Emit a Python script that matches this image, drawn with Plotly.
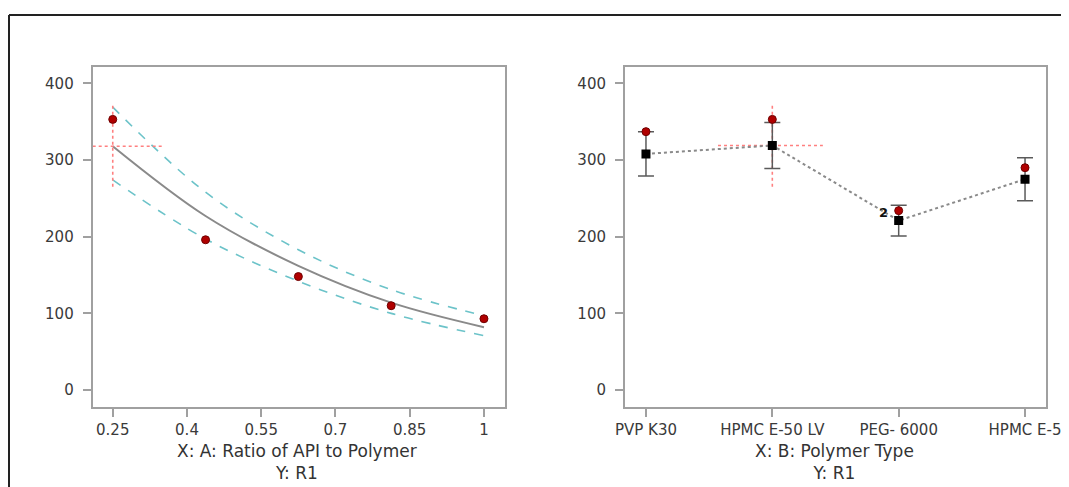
import plotly.graph_objects as go

# ---------------- data ----------------
# Left panel: A: Ratio of API to Polymer
ratio_x = [0.25, 0.4375, 0.625, 0.8125, 1.0]
ratio_actual = [353, 196, 148, 110, 93]
ratio_fit = [318, 227, 162, 114, 82]
ratio_upper = [369, 258, 183, 131, 97]
ratio_lower = [274, 197, 142, 100, 71]
ratio_ticks = [0.25, 0.4, 0.55, 0.7, 0.85, 1.0]
ratio_ticktext = ["0.25", "0.4", "0.55", "0.7", "0.85", "1"]

# Right panel: B: Polymer Type
polymers = ["PVP K30", "HPMC E-50 LV", "PEG- 6000", "HPMC E-5"]
poly_mean = [308, 319, 221, 275]
poly_err = [29, 30, 20, 28]
poly_actual = [337, 353, 234, 290]
poly_repl_label = ["", "", "2", ""]

# current prediction (crosshair)
pred_x_ratio = 0.25
pred_poly_idx = 1
pred_value = 318
pred_ci = [265, 374]

y_ticks = [0, 100, 200, 300, 400]

FONT = "DejaVu Sans"
TICK_C = "#3a3a3a"
BOX_C = "#a0a0a0"
W, H = 1069, 487
OFF = 8  # page body margin offset

def px_x(p):
    return (p - OFF) / W

def px_y(p):
    return 1 - (p - OFF) / H

fig = go.Figure()

# ---- left panel ----
fig.add_trace(go.Scatter(x=ratio_x, y=ratio_upper, mode="lines", line=dict(color="#6cc3c9", width=1.6, dash="dash", shape="spline"),
                         xaxis="x", yaxis="y", showlegend=False, hoverinfo="skip"))
fig.add_trace(go.Scatter(x=ratio_x, y=ratio_lower, mode="lines", line=dict(color="#6cc3c9", width=1.6, dash="dash", shape="spline"),
                         xaxis="x", yaxis="y", showlegend=False, hoverinfo="skip"))
fig.add_trace(go.Scatter(x=ratio_x, y=ratio_fit, mode="lines", line=dict(color="#8a8a8a", width=2, shape="spline"),
                         xaxis="x", yaxis="y", showlegend=False))
# crosshair left
fig.add_trace(go.Scatter(x=[pred_x_ratio, pred_x_ratio], y=pred_ci, mode="lines",
                         line=dict(color="#ff8080", width=1.6, dash="dot"), xaxis="x", yaxis="y", showlegend=False, hoverinfo="skip"))
fig.add_trace(go.Scatter(x=[0.2095, 0.349], y=[pred_value, pred_value], mode="lines",
                         line=dict(color="#ff8080", width=1.6, dash="dot"), xaxis="x", yaxis="y", showlegend=False, hoverinfo="skip"))
fig.add_trace(go.Scatter(x=ratio_x, y=ratio_actual, mode="markers",
                         marker=dict(color="#b00000", size=8, line=dict(color="#700000", width=1)),
                         xaxis="x", yaxis="y", showlegend=False))

# ---- right panel ----
idx = list(range(len(polymers)))
fig.add_trace(go.Scatter(x=[pred_poly_idx, pred_poly_idx], y=pred_ci, mode="lines",
                         line=dict(color="#ff8080", width=1.6, dash="dot"), xaxis="x2", yaxis="y2", showlegend=False, hoverinfo="skip"))
fig.add_trace(go.Scatter(x=[pred_poly_idx - 0.43, pred_poly_idx + 0.40], y=[pred_value + 1, pred_value + 1], mode="lines",
                         line=dict(color="#ff8080", width=1.6, dash="dot"), xaxis="x2", yaxis="y2", showlegend=False, hoverinfo="skip"))
fig.add_trace(go.Scatter(x=idx, y=poly_mean, mode="lines+markers",
                         line=dict(color="#8a8a8a", width=2, dash="dot"),
                         marker=dict(color="black", size=9, symbol="square"),
                         error_y=dict(type="data", array=poly_err, visible=True, color="#5a5a5a", thickness=1.5, width=8),
                         xaxis="x2", yaxis="y2", showlegend=False))
fig.add_trace(go.Scatter(x=idx, y=poly_actual, mode="markers",
                         marker=dict(color="#b00000", size=8, line=dict(color="#700000", width=1)),
                         xaxis="x2", yaxis="y2", showlegend=False))

annotations = []
for i, lab in enumerate(poly_repl_label):
    if lab:
        annotations.append(dict(x=idx[i], y=poly_actual[i], xref="x2", yref="y2", text="<b>" + lab + "</b>",
                                showarrow=False, xshift=-15, yshift=-2, font=dict(family=FONT, size=13, color="#111")))

# axis titles as annotations (two lines)
for cx, t1 in [(297, "X: A: Ratio of API to Polymer"), (834, "X: B: Polymer Type")]:
    annotations.append(dict(x=px_x(cx), y=px_y(439), xref="paper", yref="paper", text=t1 + "<br>Y: R1",
                            showarrow=False, xanchor="center", yanchor="top",
                            font=dict(family=FONT, size=17, color="#333")))

axis_common = dict(showline=True, mirror=True, linecolor=BOX_C, linewidth=2, showgrid=False, zeroline=False,
                   ticks="outside", ticklen=8, tickcolor=BOX_C, tickwidth=1.5, automargin=False,
                   tickfont=dict(family=FONT, size=15, color=TICK_C))

fig.update_layout(
    width=W, height=H,
    margin=dict(l=0, r=0, t=0, b=0, autoexpand=False),
    paper_bgcolor="white", plot_bgcolor="white",
    xaxis=dict(domain=[px_x(92.7), px_x(505)], range=[0.2095, 1.0425], tickvals=ratio_ticks, ticktext=ratio_ticktext,
               anchor="y", ticklabelstandoff=0, **axis_common),
    yaxis=dict(domain=[px_y(406.7), px_y(66.7)], range=[-21.7, 421.7], tickvals=y_ticks, anchor="x",
               ticklabelstandoff=6, **axis_common),
    xaxis2=dict(domain=[px_x(625), px_x(1046)], range=[-0.166, 3.166], tickvals=idx, ticktext=polymers,
                anchor="y2", ticklabelstandoff=0, **axis_common),
    yaxis2=dict(domain=[px_y(406.7), px_y(66.7)], range=[-21.7, 421.7], tickvals=y_ticks, anchor="x2",
                ticklabelstandoff=6, **axis_common),
    annotations=annotations,
    shapes=[
        dict(type="line", xref="paper", yref="paper", x0=px_x(9), x1=px_x(9), y0=0, y1=px_y(15),
             line=dict(color="#222", width=2)),
        dict(type="line", xref="paper", yref="paper", x0=px_x(9), x1=1.0, y0=px_y(15), y1=px_y(15),
             line=dict(color="#222", width=2)),
    ],
)

fig.write_html("out.html")
